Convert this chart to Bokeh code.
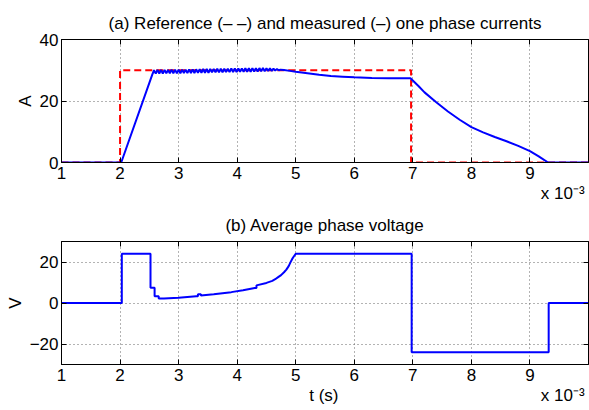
from bokeh.plotting import figure
from bokeh.layouts import column
from bokeh.models import Range1d, FixedTicker, LinearAxis
from bokeh.embed import file_html
from bokeh.resources import INLINE

# time axis in units of 1e-3 s
x_ticks = [1, 2, 3, 4, 5, 6, 7, 8, 9]
x_tick_labels = ["1", "2", "3", "4", "5", "6", "7", "8", "9"]
x_scale_note = "x 10\u207b\u00b3"
x_label = "t (s)"

# (a) reference current
t_ref = [1.0, 2.0, 2.0, 6.97, 6.97, 10.0]
i_ref = [0.0, 0.0, 30.0, 30.0, 0.0, 0.0]

# (a) measured current: rise, ripple, decay
t_rise = [1.0, 2.02, 2.55]
i_rise = [0.0, 0.0, 28.6]
t_ripple = [2.58, 2.61, 2.64, 2.67, 2.70, 2.73, 2.76, 2.79, 2.82, 2.85,
            2.88, 2.91, 2.94, 2.97, 3.00, 3.03, 3.06, 3.09, 3.12, 3.15,
            3.18, 3.21, 3.24, 3.27, 3.30, 3.33, 3.36, 3.39, 3.42, 3.45,
            3.48, 3.51, 3.54, 3.57, 3.60, 3.63, 3.66, 3.69, 3.72, 3.75,
            3.78, 3.81, 3.84, 3.87, 3.90, 3.93, 3.96, 3.99, 4.02, 4.05,
            4.08, 4.11, 4.14, 4.17, 4.20, 4.23, 4.26, 4.29, 4.32, 4.35,
            4.38, 4.41, 4.44, 4.47, 4.50, 4.53, 4.56, 4.59, 4.62, 4.65,
            4.68, 4.71, 4.74]
i_ripple = [30.0, 28.9, 30.1, 28.9, 30.1, 28.9, 30.1, 29.0, 30.1, 29.0,
            30.2, 29.0, 30.2, 29.0, 30.2, 29.0, 30.2, 29.1, 30.2, 29.1,
            30.3, 29.1, 30.3, 29.1, 30.3, 29.2, 30.3, 29.2, 30.4, 29.2,
            30.4, 29.2, 30.4, 29.3, 30.4, 29.3, 30.5, 29.3, 30.5, 29.3,
            30.5, 29.4, 30.5, 29.4, 30.6, 29.4, 30.6, 29.4, 30.6, 29.5,
            30.6, 29.5, 30.7, 29.5, 30.7, 29.5, 30.7, 29.6, 30.7, 29.6,
            30.7, 29.7, 30.7, 29.7, 30.6, 29.8, 30.6, 29.8, 30.5, 29.9,
            30.4, 30.0, 30.2]
t_decay = [4.8, 4.9, 5.0, 5.2, 5.4, 5.6, 5.8, 6.0, 6.3, 6.6, 6.96,
           7.1, 7.2, 7.4, 7.6, 7.8, 8.0, 8.2, 8.4, 8.6, 8.8, 9.0, 9.15, 9.31, 10.0]
i_decay = [30.1, 29.8, 29.5, 29.0, 28.5, 28.1, 27.9, 27.7, 27.5, 27.4, 27.4,
           24.8, 22.8, 19.6, 16.6, 13.9, 11.5, 9.8, 8.3, 6.9, 5.4, 3.7, 2.0, 0.0, 0.0]

# (b) average phase voltage
t_volt = [1.0, 2.03, 2.03, 2.52, 2.52, 2.59, 2.59, 2.66, 2.66, 2.75, 3.0, 3.3, 3.33,
          3.33, 3.38, 3.38, 3.6, 3.9, 4.1, 4.3, 4.33, 4.33, 4.5, 4.6, 4.65, 4.7,
          4.75, 4.8, 4.84, 4.88, 4.91, 4.94, 4.97, 5.0, 6.98, 6.98, 9.32, 9.32, 10.0]
v_volt = [0.0, 0.0, 24.0, 24.0, 7.5, 7.5, 3.3, 3.3, 2.2, 2.2, 2.6, 3.3, 3.3,
          4.3, 4.3, 3.7, 4.3, 5.3, 6.2, 7.3, 7.3, 8.6, 9.8, 10.8, 11.6, 12.6,
          13.6, 15.0, 16.3, 18.0, 19.8, 21.5, 22.8, 24.0, 24.0, -24.0, -24.0, 0.0, 0.0]

yticks_a = [0, 20, 40]
yticks_b = [-20, 0, 20]

FONT = "Liberation Sans"
FS = "17px"

# positions (in axis units) of the texts written under the tick labels
NOTE_X = 9.56
XLABEL_X = 5.48


def text_style(ax):
    ax.major_label_text_font = FONT
    ax.major_label_text_font_size = FS
    ax.major_label_text_color = "black"
    ax.axis_label_text_font = FONT
    ax.axis_label_text_font_size = FS
    ax.axis_label_text_font_style = "normal"
    ax.axis_label_text_color = "black"


def style_axes(p, yticks, ylabel, with_xlabel=False):
    xlabels = dict(zip(x_ticks, x_tick_labels))
    ylabels = {v: str(v).replace("-", "\u2212") for v in yticks}
    bottom = LinearAxis(ticker=FixedTicker(ticks=x_ticks), major_label_overrides=xlabels)
    top = LinearAxis(ticker=FixedTicker(ticks=x_ticks),
                     major_label_overrides={v: "" for v in x_ticks})
    left = LinearAxis(ticker=FixedTicker(ticks=yticks), major_label_overrides=ylabels)
    right = LinearAxis(ticker=FixedTicker(ticks=yticks),
                       major_label_overrides={v: "" for v in yticks})
    p.add_layout(bottom, "below")
    p.add_layout(top, "above")
    p.add_layout(left, "left")
    p.add_layout(right, "right")
    for ax in [bottom, top, left, right]:
        ax.major_tick_in = 5
        ax.major_tick_out = 0
        ax.minor_tick_line_color = None
        ax.axis_line_color = "black"
        ax.major_tick_line_color = "black"
        text_style(ax)
    for ax in [top, right]:
        ax.major_label_text_font_size = "0px"
        ax.major_label_text_color = None
        ax.major_label_standoff = 0
        ax.axis_label_standoff = 0
    bottom.major_label_standoff = 4
    left.major_label_standoff = 3
    left.axis_label = ylabel
    left.axis_label_standoff = 2

    # second row under the tick labels: scale note (and x label)
    ticks = [NOTE_X]
    labels = {NOTE_X: x_scale_note}
    if with_xlabel:
        ticks = [XLABEL_X, NOTE_X]
        labels[XLABEL_X] = x_label
    note_ax = LinearAxis(ticker=FixedTicker(ticks=ticks), major_label_overrides=labels)
    note_ax.axis_line_color = None
    note_ax.major_tick_line_color = None
    note_ax.minor_tick_line_color = None
    note_ax.major_tick_in = 0
    note_ax.major_tick_out = 0
    note_ax.major_label_standoff = 2
    text_style(note_ax)
    p.add_layout(note_ax, "below")

    p.xgrid.ticker = FixedTicker(ticks=x_ticks)
    p.ygrid.ticker = FixedTicker(ticks=yticks)
    for g in [p.xgrid, p.ygrid]:
        g.grid_line_color = "#666666"
        g.grid_line_dash = "1 3"
        g.grid_line_width = 1
    p.outline_line_color = "black"
    p.outline_line_alpha = 1.0
    p.title.align = "center"
    p.title.text_font = FONT
    p.title.text_font_size = FS
    p.title.text_font_style = "normal"
    p.title.text_color = "black"
    p.title.standoff = 14


p1 = figure(width=589, height=205, x_range=Range1d(1, 10), y_range=Range1d(0, 40),
            output_backend="svg", toolbar_location=None,
            x_axis_location=None, y_axis_location=None,
            min_border_left=61, min_border_right=1, min_border_top=39, min_border_bottom=42,
            title="(a) Reference (\u2013 \u2013) and measured (\u2013) one phase currents")
style_axes(p1, yticks_a, "A")
p1.line(t_ref, i_ref, line_color="#ff0000", line_width=2, line_dash="7 4")
p1.line(t_rise + t_ripple + t_decay, i_rise + i_ripple + i_decay,
        line_color="#0000ff", line_width=2)

p2 = figure(width=589, height=205, x_range=Range1d(1, 10), y_range=Range1d(-30, 30),
            output_backend="svg", toolbar_location=None,
            x_axis_location=None, y_axis_location=None,
            min_border_left=61, min_border_right=1, min_border_top=36, min_border_bottom=46,
            title="(b) Average phase voltage")
style_axes(p2, yticks_b, "V", with_xlabel=True)
p2.line(t_volt, v_volt, line_color="#0000ff", line_width=2)

layout = column(p1, p2)
open("out.html", "w").write(file_html(layout, INLINE))
